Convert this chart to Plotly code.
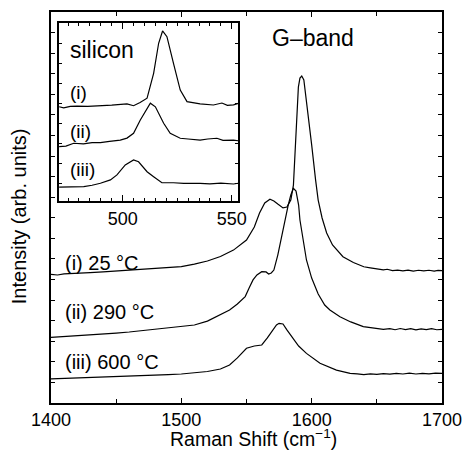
import plotly.graph_objects as go

# ---- main G-band spectra (Raman shift in cm^-1, intensity in arb. units) ----
shift_i = [1400, 1405, 1410, 1420, 1430, 1440, 1450, 1460, 1470, 1480, 1490, 1500,
           1510, 1520, 1530, 1540, 1550, 1556, 1560, 1564, 1568, 1571, 1574, 1578,
           1581, 1584, 1586, 1588, 1589.8, 1591, 1592.4, 1594, 1595.5, 1597.4, 1600,
           1603, 1605, 1608, 1611.5, 1616, 1624, 1632, 1640, 1645, 1650, 1655, 1658,
           1662, 1666, 1670, 1674, 1678, 1682, 1686, 1690, 1694, 1697, 1700]
int_i = [6.25, 6.22, 6.27, 6.29, 6.34, 6.37, 6.41, 6.46, 6.51, 6.56, 6.58, 6.63,
         6.75, 6.90, 7.12, 7.43, 7.92, 8.55, 9.23, 9.72, 9.90, 9.82, 9.67, 9.48,
         9.52, 9.86, 10.59, 13.02, 15.35, 15.79, 15.89, 15.70, 14.97, 14.09, 12.54,
         10.84, 9.86, 8.99, 8.26, 7.68, 7.11, 6.83, 6.62, 6.57, 6.51, 6.47, 6.50,
         6.43, 6.46, 6.42, 6.46, 6.41, 6.45, 6.42, 6.45, 6.41, 6.44, 6.43]

shift_ii = [1400, 1410, 1420, 1430, 1440, 1450, 1460, 1470, 1480, 1490, 1500, 1510,
            1520, 1530, 1537, 1543, 1549, 1552, 1555, 1558, 1561.7, 1565, 1567, 1569,
            1571, 1574, 1577, 1579.5, 1582, 1584, 1586, 1588, 1590, 1591, 1593.3, 1596,
            1600, 1605, 1610, 1614, 1621.7, 1630, 1639.6, 1645, 1650, 1655, 1660, 1664,
            1668, 1672, 1676, 1680, 1684, 1688, 1692, 1696, 1700]
int_ii = [3.19, 3.23, 3.26, 3.30, 3.33, 3.40, 3.45, 3.52, 3.57, 3.64, 3.71, 3.79,
          3.98, 4.28, 4.52, 4.81, 5.17, 5.59, 5.98, 6.22, 6.38, 6.37, 6.27, 6.32,
          6.46, 7.19, 8.16, 8.89, 9.62, 10.11, 10.43, 10.30, 9.62, 8.89, 7.92, 6.95,
          6.07, 5.30, 4.76, 4.52, 4.19, 3.94, 3.71, 3.66, 3.62, 3.58, 3.61, 3.56,
          3.62, 3.57, 3.61, 3.55, 3.60, 3.57, 3.61, 3.56, 3.58]

shift_iii = [1400, 1410, 1420, 1430, 1440, 1450, 1460, 1470, 1480, 1490, 1500, 1510,
             1520, 1530, 1537, 1543, 1550, 1556, 1561.7, 1566, 1570.6, 1573, 1575, 1578,
             1581, 1584.7, 1590, 1596, 1606.4, 1619, 1629.5, 1635, 1640, 1645, 1650,
             1655, 1660, 1665, 1670, 1675, 1680, 1685, 1690, 1695, 1700]
int_iii = [1.17, 1.19, 1.21, 1.24, 1.26, 1.29, 1.31, 1.34, 1.36, 1.38, 1.41, 1.46,
           1.53, 1.65, 1.85, 2.19, 2.66, 2.77, 2.82, 3.16, 3.55, 3.79, 3.87, 3.84,
           3.55, 3.22, 2.77, 2.41, 1.93, 1.60, 1.44, 1.42, 1.38, 1.42, 1.39, 1.43,
           1.40, 1.44, 1.41, 1.45, 1.41, 1.44, 1.42, 1.45, 1.44]

# ---- inset: silicon peak ----
si_shift_i = [470.9, 473, 476, 479.1, 484, 489.8, 495, 502, 505, 508, 511.2, 514.2,
              516.5, 518.3, 520.3, 523.3, 526.4, 529.5, 535.5, 541.6, 545.5, 548, 550.8, 553]
si_i = [5.31, 5.25, 5.33, 5.35, 5.33, 5.35, 5.40, 5.47, 5.37, 5.55, 5.79, 7.19,
        8.88, 9.57, 9.25, 7.75, 6.25, 5.60, 5.47, 5.41, 5.52, 5.39, 5.42, 5.50]

si_shift_ii = [470.9, 474, 477.6, 482, 486, 489.8, 494, 498.9, 502, 505, 508.1, 511.2,
               512.7, 515, 518.8, 521.8, 526.4, 530, 535.5, 539, 543.2, 546, 550.8, 553]
si_ii = [3.07, 3.10, 3.26, 3.22, 3.30, 3.29, 3.36, 3.44, 3.55, 3.82, 4.57, 5.22,
         5.51, 5.31, 4.38, 3.82, 3.54, 3.50, 3.44, 3.50, 3.54, 3.42, 3.44, 3.40]

si_shift_iii = [470.9, 476, 482.2, 486, 489.8, 494.4, 497.4, 501.2, 505, 507.3, 511.2,
                514.2, 518, 523.3, 528, 535.5, 540, 545, 550.8, 553]
si_iii = [0.79, 0.80, 0.82, 0.90, 1.01, 1.20, 1.48, 2.04, 2.32, 2.22, 1.66,
          1.38, 1.04, 1.04, 1.00, 1.01, 0.98, 1.02, 0.97, 1.01]

main_labels = ["(i) 25 °C", "(ii) 290 °C", "(iii) 600 °C"]
main_label_y = [6.8, 4.4, 1.97]
inset_labels = ["(i)", "(ii)", "(iii)"]
inset_label_y = [6.1, 3.91, 1.76]
x_title = "Raman Shift (cm<sup>−1</sup>)"
y_title = "Intensity (arb. units)"

FONT = "Arial, Liberation Sans, sans-serif"
line = dict(color="black", width=1.2)

fig = go.Figure()
for xs, ys in [(shift_i, int_i), (shift_ii, int_ii), (shift_iii, int_iii)]:
    fig.add_trace(go.Scatter(x=xs, y=ys, mode="lines", line=line,
                             xaxis="x", yaxis="y", showlegend=False, hoverinfo="skip"))
for xs, ys in [(si_shift_i, si_i), (si_shift_ii, si_ii), (si_shift_iii, si_iii)]:
    fig.add_trace(go.Scatter(x=xs, y=ys, mode="lines", line=line,
                             xaxis="x2", yaxis="y2", showlegend=False, hoverinfo="skip"))

annotations = []
for t, yv in zip(main_labels, main_label_y):
    annotations.append(dict(x=1409, y=yv, xref="x", yref="y", text=t, showarrow=False,
                            xanchor="left", yanchor="middle",
                            font=dict(family=FONT, size=20, color="black")))
for t, yv in zip(inset_labels, inset_label_y):
    annotations.append(dict(x=475, y=yv, xref="x2", yref="y2", text=t, showarrow=False,
                            xanchor="left", yanchor="middle",
                            font=dict(family=FONT, size=19, color="black")))
annotations.append(dict(x=475, y=8.5, xref="x2", yref="y2", text="silicon", showarrow=False,
                        xanchor="left", yanchor="middle",
                        font=dict(family=FONT, size=23, color="black")))
annotations.append(dict(x=1601, y=17.75, xref="x", yref="y", text="G–band", showarrow=False,
                        xanchor="center", yanchor="middle",
                        font=dict(family=FONT, size=23, color="black")))
annotations.append(dict(x=0.519, y=-0.089, xref="paper", yref="paper", text=x_title,
                        showarrow=False, xanchor="center", yanchor="middle",
                        font=dict(family=FONT, size=19.5, color="black")))
annotations.append(dict(x=-0.08, y=0.477, xref="paper", yref="paper", text=y_title,
                        showarrow=False, xanchor="center", yanchor="middle", textangle=-90,
                        font=dict(family=FONT, size=20, color="black")))

axis_common = dict(showline=True, linecolor="black", linewidth=1.5, mirror="ticks",
                   ticks="inside", tickcolor="black", showgrid=False, zeroline=False,
                   automargin=False)

fig.update_layout(
    width=464, height=450,
    margin=dict(l=51, r=22, t=12, b=47),
    paper_bgcolor="white", plot_bgcolor="white",
    font=dict(family=FONT, size=18, color="black"),
    annotations=annotations,
    xaxis=dict(range=[1400, 1700], tickvals=[1400, 1500, 1600, 1700], ticklen=5,
               tickwidth=1.2, minor=dict(dtick=50, ticklen=4, ticks="inside", tickcolor="black"),
               tickfont=dict(size=18), ticklabelstandoff=0,
               domain=[0, 1], anchor="y", **axis_common),
    yaxis=dict(range=[0, 19], dtick=1, tick0=0, ticklen=4, tickwidth=1.2,
               showticklabels=False, domain=[0, 1], anchor="x", **axis_common),
    xaxis2=dict(range=[470.7, 553], tickvals=[500, 550], ticklen=6, tickwidth=1.2,
                minor=dict(dtick=5, ticklen=3, ticks="inside", tickcolor="black"),
                tickfont=dict(size=18), ticklabelstandoff=0,
                domain=[0.0197, 0.479], anchor="y2", **axis_common),
    yaxis2=dict(range=[0, 10], tick0=1.01, dtick=1.124, ticklen=4, tickwidth=1.2,
                showticklabels=False, domain=[0.516, 0.971], anchor="x2", **axis_common),
)

fig.write_html("out.html", config={"displayModeBar": False},
               post_script="document.body.style.margin='0';document.body.style.overflow='hidden';")
